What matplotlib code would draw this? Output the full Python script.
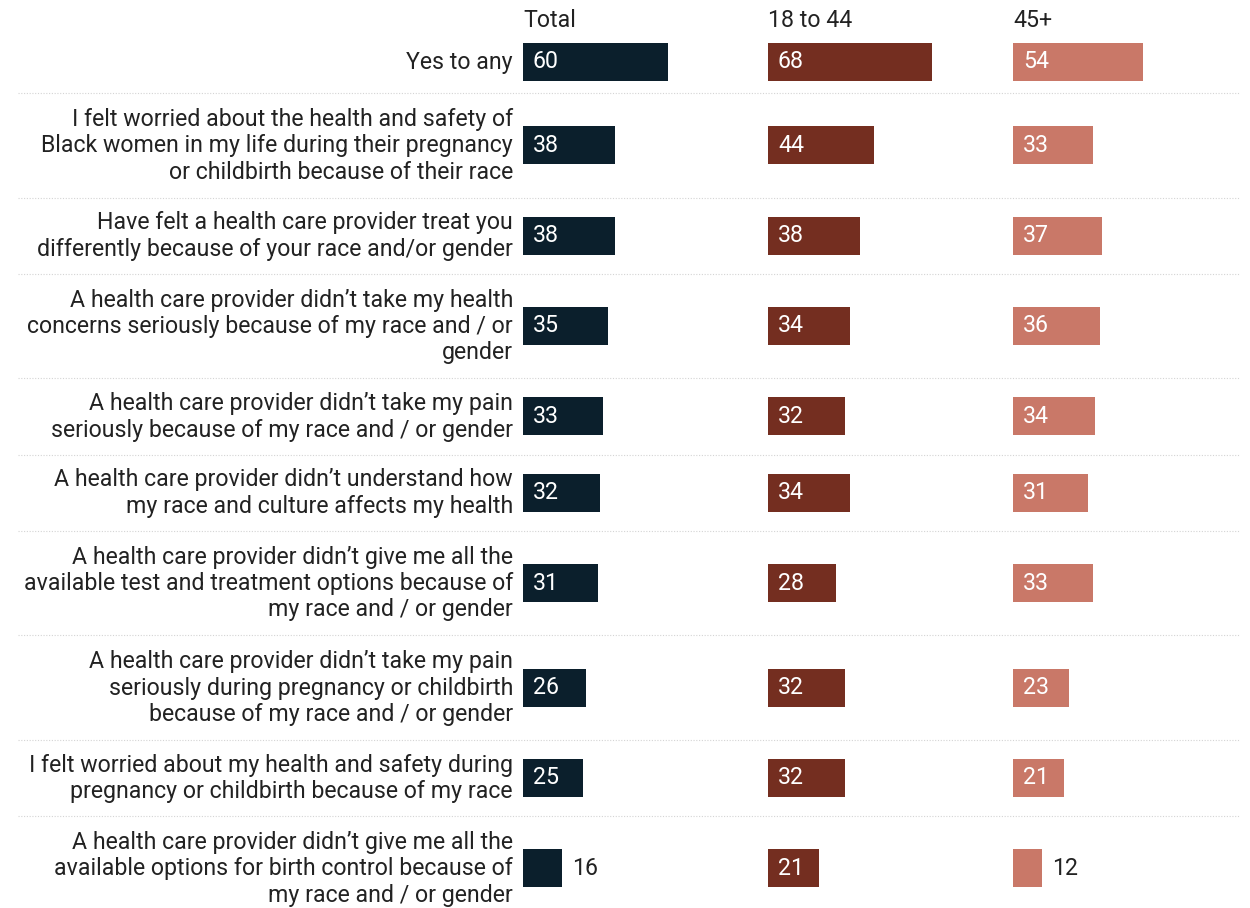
import numpy as np
import matplotlib.pyplot as plt

plt.rcParams['font.family'] = ['Roboto', 'DejaVu Sans']

# data
questions = [
    "Yes to any",
    "I felt worried about the health and safety of\nBlack women in my life during their pregnancy\nor childbirth because of their race",
    "Have felt a health care provider treat you\ndifferently because of your race and/or gender",
    "A health care provider didn\u2019t take my health\nconcerns seriously because of my race and / or\ngender",
    "A health care provider didn\u2019t take my pain\nseriously because of my race and / or gender",
    "A health care provider didn\u2019t understand how\nmy race and culture affects my health",
    "A health care provider didn\u2019t give me all the\navailable test and treatment options because of\nmy race and / or gender",
    "A health care provider didn\u2019t take my pain\nseriously during pregnancy or childbirth\nbecause of my race and / or gender",
    "I felt worried about my health and safety during\npregnancy or childbirth because of my race",
    "A health care provider didn\u2019t give me all the\navailable options for birth control because of\nmy race and / or gender",
]
total = [60, 38, 38, 35, 33, 32, 31, 26, 25, 16]
age_18_44 = [68, 44, 38, 34, 32, 34, 28, 32, 32, 21]
age_45_plus = [54, 33, 37, 36, 34, 31, 33, 23, 21, 12]
columns = ["Total", "18 to 44", "45+"]
colors = ["#0b1f2c", "#742e20", "#c97868"]

W, H = 1250, 908
FS = 16.7
TXT = "#222222"

fig = plt.figure(figsize=(W / 100, H / 100), dpi=100)

# background axes in pixel units: labels + separators
bg = fig.add_axes([0, 0, 1, 1])
bg.set_xlim(0, W)
bg.set_ylim(H, 0)
bg.axis("off")

# row layout from number of label lines
n_lines = [q.count("\n") + 1 for q in questions]
heights = np.array([max(28.25 * n + 19.75, 62) for n in n_lines])
tops = 31 + np.concatenate([[0], np.cumsum(heights[:-1])])
centers = tops + heights / 2

for q, yc in zip(questions, centers):
    bg.text(513, yc + 0.5, q, ha="right", va="center", multialignment="right",
            fontsize=FS, color=TXT, linespacing=1.19)

bg.hlines(tops[1:], 18, 1240, colors="#d4d4d4", linestyles=(0, (1, 1.5)), lw=0.8)

# one axes per column
px_per_unit = 2.415
xmax = 95
starts = [523, 768, 1013]
for x0, name, vals, c in zip(starts, columns, [total, age_18_44, age_45_plus], colors):
    ax = fig.add_axes([x0 / W, 0, xmax * px_per_unit / W, 1])
    ax.set_xlim(0, xmax)
    ax.set_ylim(H, 0)
    ax.axis("off")
    ax.barh(centers, vals, height=38, color=c)
    ax.text(0, 20.5, name, ha="left", va="center", fontsize=FS, color=TXT)
    for v, yc in zip(vals, centers):
        if v >= 20:
            ax.annotate(str(v), (0, yc), xytext=(7.2, 0), textcoords="offset points",
                        ha="left", va="center", fontsize=FS, color="white")
        else:
            ax.annotate(str(v), (v, yc), xytext=(7.2, 0), textcoords="offset points",
                        ha="left", va="center", fontsize=FS, color=TXT)

fig.savefig("out.png", dpi=100, facecolor="white")
